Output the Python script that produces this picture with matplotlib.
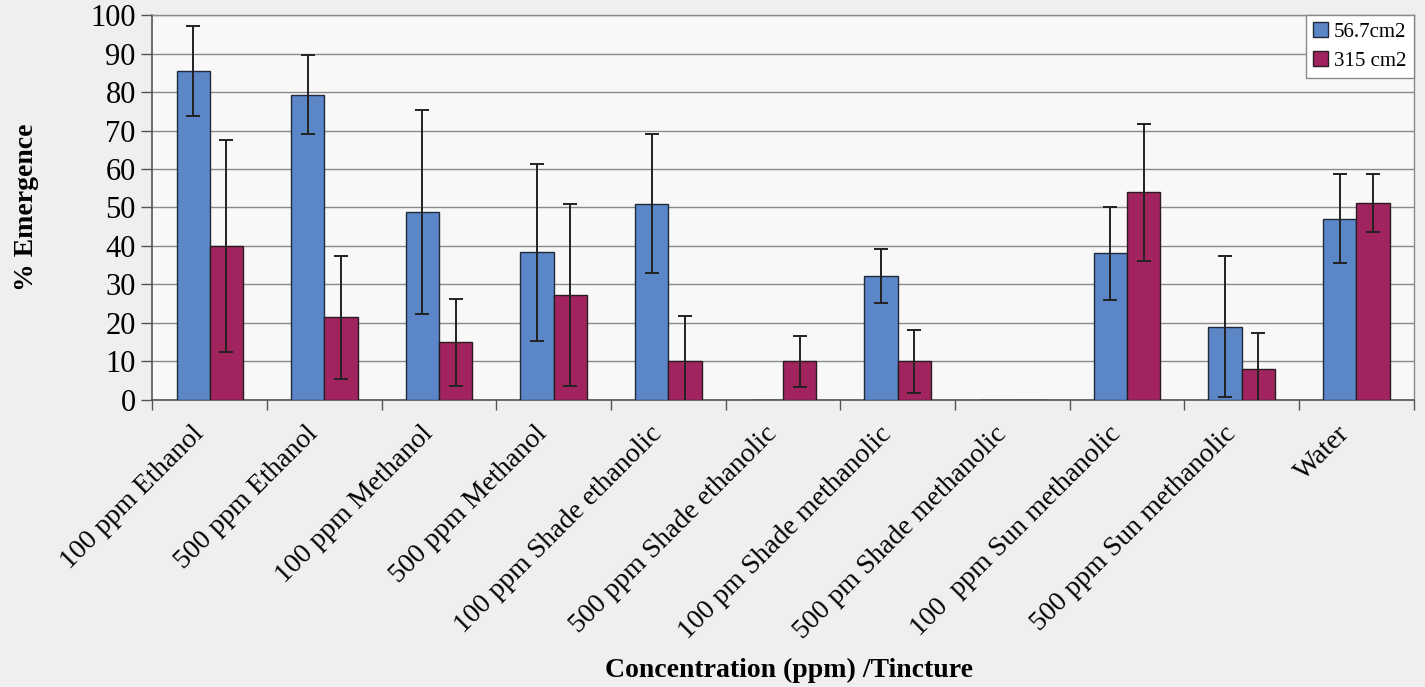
import numpy as np
import matplotlib
matplotlib.use('Agg')
import matplotlib.pyplot as plt
import matplotlib.transforms as mtransforms

plt.rcParams['font.family'] = ['Liberation Serif', 'DejaVu Serif']

categories = ['100 ppm Ethanol', '500 ppm Ethanol', '100 ppm Methanol', '500 ppm Methanol',
              '100 ppm Shade ethanolic', '500 ppm Shade ethanolic', '100 pm Shade methanolic',
              '500 pm Shade methanolic', '100  ppm Sun methanolic', '500 ppm Sun methanolic', 'Water']
series_names = ['56.7cm2', '315 cm2']
small_mean = [85.4, 79.3, 48.9, 38.3, 51.0, 0.0, 32.2, 0.0, 38.1, 19.0, 47.1]
small_err = [11.7, 10.3, 26.5, 23.0, 18.0, 0.0, 7.1, 0.0, 12.1, 18.3, 11.6]
large_mean = [40.0, 21.5, 15.0, 27.3, 10.0, 10.0, 10.0, 0.0, 54.0, 7.9, 51.1]
large_err = [27.6, 16.0, 11.3, 23.7, 11.7, 6.7, 8.2, 0.0, 17.8, 9.6, 7.6]
y_ticks = list(range(0, 101, 10))

blue = '#5b87c8'
red = '#a2245e'
width = 0.29

fig = plt.figure(figsize=(14.25, 6.87), dpi=100, facecolor='#f0eef0')
ax = fig.add_axes([0.107, 0.418, 0.885, 0.560])
ax.set_facecolor('#f9f8f9')

x = np.arange(len(categories))
ax.bar(x - width / 2, small_mean, width, color=blue, edgecolor='#1f2a3a', linewidth=1.0,
       label=series_names[0], zorder=3)
ax.bar(x + width / 2, large_mean, width, color=red, edgecolor='#2a1a22', linewidth=1.0,
       label=series_names[1], zorder=3)

# error bars only where there is a spread
for xs, m, e in [(x - width / 2, small_mean, small_err), (x + width / 2, large_mean, large_err)]:
    for xi, mi, ei in zip(xs, m, e):
        if ei > 0:
            ax.errorbar(xi, mi, yerr=ei, fmt='none', ecolor='#222222', elinewidth=1.4,
                        capsize=5, capthick=1.4, zorder=4)

ax.set_xlim(-0.5, len(categories) - 0.5)
ax.set_ylim(0, 100)
ax.set_yticks(y_ticks)
ax.yaxis.grid(True, color='#8a8a8a', linewidth=1.0, zorder=0)
ax.tick_params(axis='y', labelsize=22, length=8, width=1.0, color='#555555', pad=4)

ax.set_xticks(x)
ax.set_xticklabels(categories, rotation=45, ha='right', va='center', rotation_mode='anchor',
                   fontsize=20)
ax.tick_params(axis='x', which='major', length=0, pad=22)
# nudge the slanted labels a little left, like the original
shift = mtransforms.ScaledTranslation(-10 / 100, 0, fig.dpi_scale_trans)
for lab in ax.get_xticklabels():
    lab.set_transform(lab.get_transform() + shift)
ax.set_xticks(np.arange(-0.5, len(categories), 1.0), minor=True)
ax.tick_params(axis='x', which='minor', length=7, width=1.0, color='#555555')

for side in ['left', 'bottom']:
    ax.spines[side].set_color('#555555')
    ax.spines[side].set_linewidth(1.2)
for side in ['top', 'right']:
    ax.spines[side].set_color('#8a8a8a')
    ax.spines[side].set_linewidth(1.0)

ax.set_ylabel('% Emergence', fontsize=20, fontweight='bold')
ax.yaxis.set_label_coords(-0.09, 0.5)
ax.set_xlabel('Concentration (ppm) /Tincture', fontsize=20, fontweight='bold')
ax.xaxis.set_label_coords(0.505, -0.67)

leg = ax.legend(loc='upper right', borderaxespad=0, fontsize=15, frameon=True, fancybox=False,
                handlelength=0.7, handleheight=0.7, handletextpad=0.3, borderpad=0.35,
                labelspacing=0.45, edgecolor='#8a8a8a', framealpha=1.0)
leg.get_frame().set_facecolor('white')
leg.get_frame().set_linewidth(1.0)

fig.savefig('out.png', dpi=100, facecolor=fig.get_facecolor())
